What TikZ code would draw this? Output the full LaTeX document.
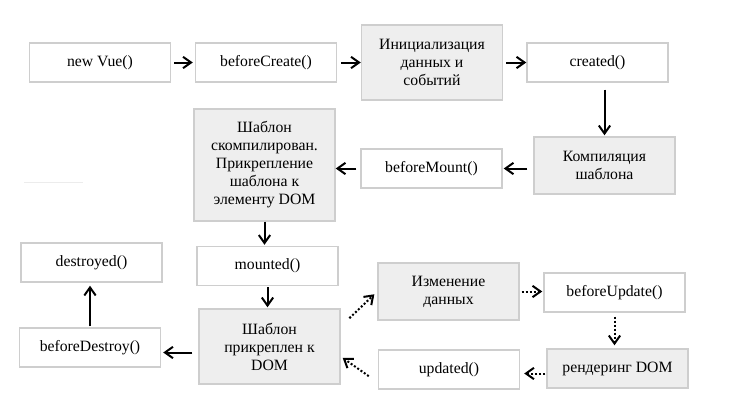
\documentclass[tikz,border=0pt]{standalone}
\usepackage{fontspec}
\setmainfont{Liberation Serif}
\usetikzlibrary{arrows.meta, calc}
\definecolor{boxline}{RGB}{206, 206, 206}
\definecolor{boxfill}{RGB}{238, 238, 238}
\definecolor{faintline}{RGB}{236, 236, 236}

\begin{document}
\begin{tikzpicture}[x=0.75pt, y=-0.75pt,
  box/.style={draw=boxline, line width=1.1pt, fill=white, minimum width=105.75pt,
    minimum height=29.25pt, inner sep=0pt, align=center,
    font=\fontsize{11.8}{13.5}\selectfont},
  greybox/.style={box, fill=boxfill},
  conn/.style={-{Straight Barb[length=6pt, width=8.5pt]}, line width=1.5pt},
  dotconn/.style={conn, dash pattern=on 1.5pt off 1.5pt}]

\useasboundingbox (0,0) rectangle (740,407);

% ============================================================
% верхний ряд: создание
% ============================================================
\node[box] (vue) at (100,62.5) {new Vue()};
\node[box] (bcreate) at (266,62.5) {beforeCreate()};
\node[greybox, minimum height=56.25pt] (init) at (432,62.5)
  {Инициализация\\данных и\\событий};
\node[box] (created) at (597.5,62.5) {created()};

\draw[conn, shorten <=2.25pt, shorten >=1.5pt] (vue) -- (bcreate);
\draw[conn, shorten <=3pt] (bcreate) -- (init);
\draw[conn, shorten <=2.25pt] (init) -- (created);

% ============================================================
% второй ряд: монтирование
% ============================================================
\node[greybox, minimum height=42.75pt] (compile) at (604.5,165.5)
  {Компиляция\\шаблона};
\node[box] (bmount) at (431.5,168.5) {beforeMount()};
\node[greybox, minimum height=84pt] (tmpl) at (264.5,165)
  {Шаблон\\скомпилирован.\\Прикрепление\\шаблона к\\элементу DOM};
\node[box] (mounted) at (267.5,266) {mounted()};
\node[greybox, minimum height=56.25pt] (attached) at (269.5,346.5)
  {Шаблон\\прикреплен к\\DOM};

\draw[conn, shorten <=5.25pt, shorten >=0.75pt] (compile.north |- created.south) -- (compile.north);
\draw[conn, shorten <=4.5pt, shorten >=0.75pt] (compile.west |- bmount.east) -- (bmount.east);
\draw[conn, shorten <=3pt] (bmount.west) -- (bmount.west -| tmpl.east);
\draw[conn, shorten >=0.75pt] (tmpl.south) -- (tmpl.south |- mounted.north);
\draw[conn, shorten <=0.75pt, shorten >=0.75pt] (mounted.south) -- (mounted.south |- attached.north);

% ============================================================
% уничтожение (слева)
% ============================================================
\node[box] (bdestroy) at (90,347.5) {beforeDestroy()};
\node[box] (destroyed) at (91.5,262.5) {destroyed()};

\coordinate (attw) at ($(attached.west)+(0,6)$);
\draw[conn, shorten <=4.5pt, shorten >=1.5pt] (attw) -- (attw -| bdestroy.east);
\draw[conn, shorten <=0.75pt, shorten >=2.25pt] (bdestroy.north) -- (bdestroy.north |- destroyed.south);

% ============================================================
% цикл обновления (пунктир)
% ============================================================
\node[greybox, minimum height=42.75pt] (change) at (448.5,291.5)
  {Изменение\\данных};
\node[box] (bupdate) at (614.5,292.5) {beforeUpdate()};
\node[greybox] (render) at (617.5,368.5) {рендеринг DOM};
\node[box] (updated) at (449,369.5) {updated()};

\draw[dotconn, shorten <=9pt, shorten >=3pt] ($(attached.east)+(0,-20)$) -- (change.west);
\draw[dotconn, shorten <=1.5pt, shorten >=0.75pt] (change.east) -- (change.east -| bupdate.west);
\draw[dotconn, shorten <=3pt, shorten >=2.25pt] (bupdate.south) -- (bupdate.south |- render.north);
\coordinate (renw) at ($(render.west)+(0,5)$);
\draw[dotconn, shorten <=0.75pt, shorten >=3pt] (renw) -- (renw -| updated.east);
\draw[dotconn, shorten <=8.25pt, shorten >=1.8pt] ($(updated.west)+(0,13)$) -- ($(attached.east)+(0,10)$);

% едва заметная линия слева
\draw[faintline, line width=0.75pt] (24,182) -- (83,182);

\end{tikzpicture}
\end{document}
